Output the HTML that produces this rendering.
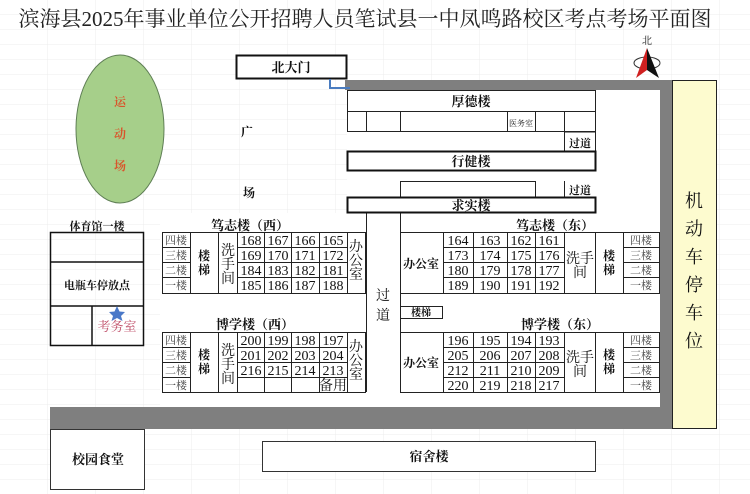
<!DOCTYPE html>
<html><head><meta charset="utf-8"><style>
html,body{margin:0;padding:0;background:#fff;}
svg{display:block;}
text{font-family:"Liberation Serif","Noto Serif CJK SC",serif;fill:#111;}
.n{font-size:14px;text-anchor:middle;}
.f{font-size:11px;text-anchor:middle;fill:#444;}
.c{font-size:12px;text-anchor:middle;font-weight:bold;}
.t{font-size:13px;text-anchor:middle;font-weight:bold;}
</style></head><body>
<svg width="750" height="494" viewBox="0 0 750 494" xmlns="http://www.w3.org/2000/svg">
<defs><pattern id="g" width="48" height="15" patternUnits="userSpaceOnUse"><path d="M48 0V15M0 15H48" stroke="#ececec" stroke-width="1" fill="none"/></pattern></defs>
<rect width="750" height="494" fill="url(#g)"/>
<text x="365" y="26" style="font-size:21px;text-anchor:middle;fill:#222">滨海县2025年事业单位公开招聘人员笔试县一中凤鸣路校区考点考场平面图</text>

<!-- north arrow -->
<text x="647" y="44" style="font-size:10px;text-anchor:middle">北</text>
<ellipse cx="647" cy="63" rx="13" ry="6" fill="none" stroke="#333" stroke-width="1"/>
<polygon points="647,48 636,78 647,70" fill="#d02020"/>
<polygon points="647,48 659,78 647,70" fill="#111"/>

<!-- roads -->
<rect x="345" y="80" width="327" height="10" fill="#7f7f7f"/>
<rect x="660" y="80" width="12" height="349" fill="#7f7f7f"/>
<rect x="50" y="407" width="622" height="22" fill="#7f7f7f"/>
<rect x="347" y="90" width="313" height="317" fill="#fff"/>
<rect x="160" y="213" width="500" height="194" fill="#fff"/>
<rect x="672.5" y="80.5" width="44" height="348" fill="#fdfbcf" stroke="#222"/>
<text x="694" y="207" style="font-size:18px;text-anchor:middle">机</text>
<text x="694" y="235" style="font-size:18px;text-anchor:middle">动</text>
<text x="694" y="263" style="font-size:18px;text-anchor:middle">车</text>
<text x="694" y="291" style="font-size:18px;text-anchor:middle">停</text>
<text x="694" y="319" style="font-size:18px;text-anchor:middle">车</text>
<text x="694" y="347" style="font-size:18px;text-anchor:middle">位</text>

<!-- north gate -->
<rect x="236.5" y="55.5" width="110" height="23" fill="#fff" stroke="#111" stroke-width="2"/>
<text x="291" y="72" class="t">北大门</text>
<polyline points="330,79 330,88 350,88" fill="none" stroke="#4a7cc0" stroke-width="2"/>

<!-- sports field -->
<ellipse cx="120" cy="129" rx="44" ry="74" fill="#a6cf8a" stroke="#5f7f55"/>
<text x="120" y="106" style="font-size:12px;text-anchor:middle;fill:#d9542b;font-weight:bold">运</text>
<text x="120" y="138" style="font-size:12px;text-anchor:middle;fill:#d9542b;font-weight:bold">动</text>
<text x="120" y="170" style="font-size:12px;text-anchor:middle;fill:#d9542b;font-weight:bold">场</text>
<text x="247" y="136" class="c">广</text>
<text x="249" y="197" class="c">场</text>

<!-- 厚德楼 -->
<g fill="none" stroke="#222" stroke-width="1">
<rect x="347.5" y="90.5" width="248" height="41"/>
<line x1="347" y1="111.5" x2="596" y2="111.5"/>
<line x1="366.5" y1="111" x2="366.5" y2="132"/>
<line x1="400.5" y1="111" x2="400.5" y2="132"/>
<line x1="507.5" y1="111" x2="507.5" y2="132"/>
<line x1="535.5" y1="111" x2="535.5" y2="132"/>
<line x1="564.5" y1="111" x2="564.5" y2="151"/>
<line x1="564" y1="132" x2="596" y2="132"/>
<line x1="595.5" y1="132" x2="595.5" y2="151"/>
<rect x="400.5" y="181.5" width="135" height="16"/>
<line x1="564.5" y1="181" x2="564.5" y2="197"/>
<line x1="366.5" y1="213" x2="366.5" y2="392"/>
<line x1="400.5" y1="213" x2="400.5" y2="392"/>
</g>
<text x="471" y="106" class="t">厚德楼</text>
<text x="521" y="126" style="font-size:8px;text-anchor:middle">医务室</text>
<text x="580" y="147" style="font-size:11px;text-anchor:middle;font-weight:bold">过道</text>
<rect x="347.5" y="151.5" width="248" height="19" fill="#fff" stroke="#111" stroke-width="2"/>
<text x="471" y="166" class="t">行健楼</text>
<text x="580" y="194" style="font-size:11px;text-anchor:middle;font-weight:bold">过道</text>
<rect x="347.5" y="197.5" width="248" height="15" fill="#fff" stroke="#111" stroke-width="2"/>
<text x="471" y="210" class="t">求实楼</text>
<text x="383" y="300" class="n">过</text>
<text x="383" y="320" class="n">道</text>

<!-- gym -->
<text x="97" y="230" style="font-size:11px;text-anchor:middle;font-weight:bold">体育馆一楼</text>
<g fill="none" stroke="#111" stroke-width="1.5">
<rect x="50.5" y="232.5" width="93" height="113"/>
<line x1="50" y1="262" x2="144" y2="262"/>
<line x1="50" y1="306" x2="144" y2="306"/>
<line x1="92" y1="306" x2="92" y2="346"/>
</g>
<text x="97" y="289" style="font-size:11px;text-anchor:middle;font-weight:bold">电瓶车停放点</text>
<polygon points="117,306 119.5,311.5 125,312 121,316 122.5,321 117,318 111.5,321 113,316 109,312 114.5,311.5" fill="#4a78c8"/>
<text x="117" y="331" style="font-size:13px;text-anchor:middle;fill:#c0506a">考务室</text>

<!-- West tables -->
<text x="250" y="230" class="t">笃志楼（西）</text>
<text x="255" y="329" class="t">博学楼（西）</text>
<g fill="none" stroke="#222" stroke-width="1">
<rect x="162.5" y="232.5" width="203" height="61"/>
<path d="M162 247.5H190M162 262.5H190M162 277.5H190M237 247.5H347M237 262.5H347M237 277.5H347"/>
<path d="M190.5 232V293M218.5 232V293M237.5 232V293M264.5 232V293M291.5 232V293M319.5 232V293M347.5 232V293"/>
<rect x="162.5" y="332.5" width="203" height="60"/>
<path d="M162 347.5H190M162 362.5H190M162 377.5H190M237 347.5H347M237 362.5H347M237 377.5H347"/>
<path d="M190.5 332V392M218.5 332V392M237.5 332V392M264.5 332V392M291.5 332V392M319.5 332V392M347.5 332V392"/>
</g>
<g class="f">
<text x="176" y="244" class="f">四楼</text><text x="176" y="259" class="f">三楼</text><text x="176" y="274" class="f">二楼</text><text x="176" y="289" class="f">一楼</text>
<text x="176" y="344" class="f">四楼</text><text x="176" y="359" class="f">三楼</text><text x="176" y="374" class="f">二楼</text><text x="176" y="389" class="f">一楼</text>
</g>
<text x="204" y="260" class="c">楼</text><text x="204" y="274" class="c">梯</text>
<text x="228" y="255" class="n">洗</text><text x="228" y="269" class="n">手</text><text x="228" y="283" class="n">间</text>
<text x="356" y="251" class="n">办</text><text x="356" y="265" class="n">公</text><text x="356" y="279" class="n">室</text>
<text x="204" y="359" class="c">楼</text><text x="204" y="373" class="c">梯</text>
<text x="228" y="355" class="n">洗</text><text x="228" y="369" class="n">手</text><text x="228" y="383" class="n">间</text>
<text x="356" y="351" class="n">办</text><text x="356" y="365" class="n">公</text><text x="356" y="379" class="n">室</text>
<g>
<text x="251" y="245" class="n">168</text><text x="278" y="245" class="n">167</text><text x="305" y="245" class="n">166</text><text x="333" y="245" class="n">165</text>
<text x="251" y="260" class="n">169</text><text x="278" y="260" class="n">170</text><text x="305" y="260" class="n">171</text><text x="333" y="260" class="n">172</text>
<text x="251" y="275" class="n">184</text><text x="278" y="275" class="n">183</text><text x="305" y="275" class="n">182</text><text x="333" y="275" class="n">181</text>
<text x="251" y="290" class="n">185</text><text x="278" y="290" class="n">186</text><text x="305" y="290" class="n">187</text><text x="333" y="290" class="n">188</text>
<text x="251" y="345" class="n">200</text><text x="278" y="345" class="n">199</text><text x="305" y="345" class="n">198</text><text x="333" y="345" class="n">197</text>
<text x="251" y="360" class="n">201</text><text x="278" y="360" class="n">202</text><text x="305" y="360" class="n">203</text><text x="333" y="360" class="n">204</text>
<text x="251" y="375" class="n">216</text><text x="278" y="375" class="n">215</text><text x="305" y="375" class="n">214</text><text x="333" y="375" class="n">213</text>
<text x="333" y="390" class="n">备用</text>
</g>

<!-- East tables -->
<text x="555" y="230" class="t">笃志楼（东）</text>
<text x="560" y="329" class="t">博学楼（东）</text>
<g fill="none" stroke="#222" stroke-width="1">
<rect x="400.5" y="232.5" width="259" height="61"/>
<path d="M443 247.5H564M443 262.5H564M443 277.5H564M623 247.5H660M623 262.5H660M623 277.5H660"/>
<path d="M443.5 232V293M473.5 232V293M507.5 232V293M535.5 232V293M564.5 232V293M595.5 232V293M623.5 232V293"/>
<rect x="400.5" y="332.5" width="259" height="60"/>
<path d="M443 347.5H564M443 362.5H564M443 377.5H564M623 347.5H660M623 362.5H660M623 377.5H660"/>
<path d="M443.5 332V392M473.5 332V392M507.5 332V392M535.5 332V392M564.5 332V392M595.5 332V392M623.5 332V392"/>
<rect x="400.5" y="306.5" width="42" height="12"/>
</g>
<text x="421" y="316" style="font-size:10px;text-anchor:middle;font-weight:bold">楼梯</text>
<text x="421" y="268" class="c">办公室</text>
<text x="421" y="367" class="c">办公室</text>
<text x="580" y="263" class="n">洗手</text><text x="580" y="277" class="n">间</text>
<text x="580" y="362" class="n">洗手</text><text x="580" y="376" class="n">间</text>
<text x="609" y="260" class="c">楼</text><text x="609" y="274" class="c">梯</text>
<text x="609" y="359" class="c">楼</text><text x="609" y="373" class="c">梯</text>
<text x="641" y="244" class="f">四楼</text><text x="641" y="259" class="f">三楼</text><text x="641" y="274" class="f">二楼</text><text x="641" y="289" class="f">一楼</text>
<text x="641" y="344" class="f">四楼</text><text x="641" y="359" class="f">三楼</text><text x="641" y="374" class="f">二楼</text><text x="641" y="389" class="f">一楼</text>
<g>
<text x="458" y="245" class="n">164</text><text x="490" y="245" class="n">163</text><text x="521" y="245" class="n">162</text><text x="549" y="245" class="n">161</text>
<text x="458" y="260" class="n">173</text><text x="490" y="260" class="n">174</text><text x="521" y="260" class="n">175</text><text x="549" y="260" class="n">176</text>
<text x="458" y="275" class="n">180</text><text x="490" y="275" class="n">179</text><text x="521" y="275" class="n">178</text><text x="549" y="275" class="n">177</text>
<text x="458" y="290" class="n">189</text><text x="490" y="290" class="n">190</text><text x="521" y="290" class="n">191</text><text x="549" y="290" class="n">192</text>
<text x="458" y="345" class="n">196</text><text x="490" y="345" class="n">195</text><text x="521" y="345" class="n">194</text><text x="549" y="345" class="n">193</text>
<text x="458" y="360" class="n">205</text><text x="490" y="360" class="n">206</text><text x="521" y="360" class="n">207</text><text x="549" y="360" class="n">208</text>
<text x="458" y="375" class="n">212</text><text x="490" y="375" class="n">211</text><text x="521" y="375" class="n">210</text><text x="549" y="375" class="n">209</text>
<text x="458" y="390" class="n">220</text><text x="490" y="390" class="n">219</text><text x="521" y="390" class="n">218</text><text x="549" y="390" class="n">217</text>
</g>

<!-- bottom -->
<rect x="50.5" y="429.5" width="94" height="60" fill="#fff" stroke="#333"/>
<text x="98" y="464" class="t">校园食堂</text>
<rect x="262.5" y="441.5" width="333" height="30" fill="#fff" stroke="#333"/>
<text x="429" y="461" class="t">宿舍楼</text>
</svg>
</body></html>
